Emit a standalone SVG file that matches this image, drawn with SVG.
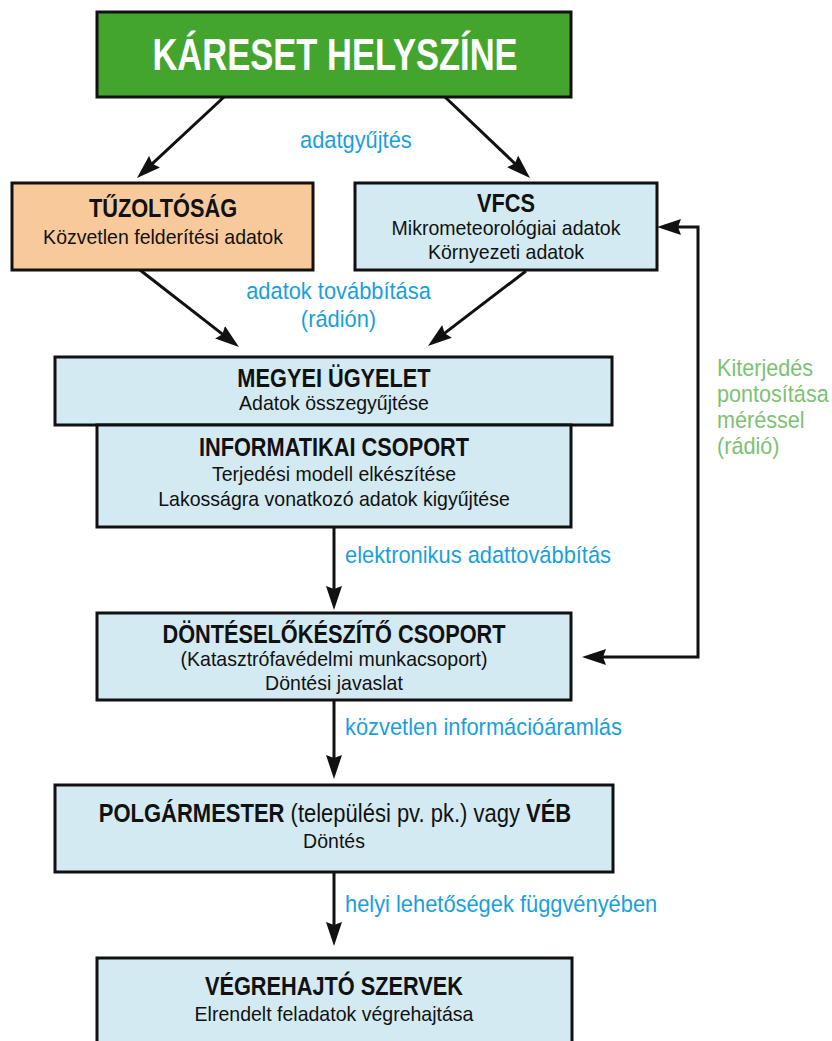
<svg xmlns="http://www.w3.org/2000/svg" width="832" height="1041" viewBox="0 0 832 1041">
<defs>
<style>
.box{stroke:#111;stroke-width:3}
.blue{fill:#d3eaf2}
.peach{fill:#f8c99a}
.green{fill:#44a52e}
.h{font-family:"Liberation Sans",Arial,sans-serif;font-weight:bold;font-size:25px;fill:#111;text-anchor:middle}
.b{font-family:"Liberation Sans",Arial,sans-serif;font-size:21px;fill:#111;text-anchor:middle}
.lb{font-family:"Liberation Sans",Arial,sans-serif;font-size:23.5px;fill:#1a9fdc}
.lg{font-family:"Liberation Sans",Arial,sans-serif;font-size:23.5px;fill:#7cc272}
.ttl{font-family:"Liberation Sans",Arial,sans-serif;font-weight:bold;font-size:44px;fill:#fff;text-anchor:middle}
.con{fill:none;stroke:#111;stroke-width:3}
</style>
<marker id="ah" viewBox="0 0 24 16" refX="14" refY="8" markerWidth="24" markerHeight="16" orient="auto-start-reverse" markerUnits="userSpaceOnUse">
<path d="M0,0 L24,8 L0,16 L3,8 z" fill="#111"/>
</marker>
</defs>
<rect width="832" height="1041" fill="#fff"/>

<g id="connectors">
<line class="con" x1="224" y1="97" x2="144.3" y2="171.2" marker-end="url(#ah)"/>
<line class="con" x1="445" y1="97" x2="522.8" y2="171.1" marker-end="url(#ah)"/>
<line class="con" x1="140" y1="270" x2="231.1" y2="340.9" marker-end="url(#ah)"/>
<line class="con" x1="526" y1="271" x2="435.9" y2="339.9" marker-end="url(#ah)"/>
<line class="con" x1="334" y1="527" x2="334" y2="600" marker-end="url(#ah)"/>
<line class="con" x1="334" y1="700" x2="334" y2="769" marker-end="url(#ah)"/>
<line class="con" x1="334" y1="872" x2="334" y2="936" marker-end="url(#ah)"/>
<path class="con" d="M592,657 H698 V227 H667" marker-start="url(#ah)" marker-end="url(#ah)"/>
<text class="lb" transform="translate(300,148) scale(0.93,1)">adatgyűjtés</text>
<text class="lb" text-anchor="middle" transform="translate(338.5,299) scale(0.93,1)">adatok továbbítása</text>
<text class="lb" text-anchor="middle" transform="translate(338.5,327) scale(0.93,1)">(rádión)</text>
<text class="lb" transform="translate(345,563) scale(0.93,1)">elektronikus adattovábbítás</text>
<text class="lb" transform="translate(345,735) scale(0.93,1)">közvetlen információáramlás</text>
<text class="lb" transform="translate(345,912) scale(0.93,1)">helyi lehetőségek függvényében</text>
<text class="lg" transform="translate(717,376) scale(0.92,1)"><tspan x="0" y="0">Kiterjedés</tspan><tspan x="0" y="26">pontosítása</tspan><tspan x="0" y="52">méréssel</tspan><tspan x="0" y="78">(rádió)</tspan></text>
</g>

<g id="kareset">
<rect class="box green" x="97" y="12" width="474" height="85"/>
<text class="ttl" transform="translate(335,70) scale(0.785,1)">KÁRESET HELYSZÍNE</text>
</g>

<g id="tuzoltosag">
<rect class="box peach" x="12" y="183" width="301" height="87"/>
<text class="h" transform="translate(163,217) scale(0.87,1)">TŰZOLTÓSÁG</text>
<text class="b" transform="translate(163,244) scale(0.93,1)">Közvetlen felderítési adatok</text>
</g>

<g id="vfcs">
<rect class="box blue" x="355" y="183" width="302" height="87"/>
<text class="h" transform="translate(506,212) scale(0.87,1)">VFCS</text>
<text class="b" transform="translate(506,235) scale(0.93,1)">Mikrometeorológiai adatok</text>
<text class="b" transform="translate(506,259) scale(0.93,1)">Környezeti adatok</text>
</g>

<g id="megyei">
<rect class="box blue" x="55" y="357" width="557" height="68"/>
<text class="h" transform="translate(334,387) scale(0.87,1)">MEGYEI ÜGYELET</text>
<text class="b" transform="translate(334,410) scale(0.93,1)">Adatok összegyűjtése</text>
</g>

<g id="informatikai">
<rect class="box blue" x="97" y="425" width="474" height="102"/>
<text class="h" transform="translate(334,456) scale(0.87,1)">INFORMATIKAI CSOPORT</text>
<text class="b" transform="translate(334,481) scale(0.93,1)">Terjedési modell elkészítése</text>
<text class="b" transform="translate(334,506) scale(0.93,1)">Lakosságra vonatkozó adatok kigyűjtése</text>
</g>

<g id="dontes">
<rect class="box blue" x="97" y="613" width="474" height="87"/>
<text class="h" transform="translate(334,643) scale(0.87,1)">DÖNTÉSELŐKÉSZÍTŐ CSOPORT</text>
<text class="b" transform="translate(334,666) scale(0.93,1)">(Katasztrófavédelmi munkacsoport)</text>
<text class="b" transform="translate(334,690) scale(0.93,1)">Döntési javaslat</text>
</g>

<g id="polgarmester">
<rect class="box blue" x="55" y="785" width="558" height="87"/>
<text class="b" transform="translate(335,822) scale(0.88,1)" style="font-size:25px"><tspan font-weight="bold">POLGÁRMESTER</tspan> (települési pv. pk.) vagy <tspan font-weight="bold">VÉB</tspan></text>
<text class="b" transform="translate(334,848) scale(0.93,1)">Döntés</text>
</g>

<g id="vegrehajto">
<rect class="box blue" x="97" y="958" width="475" height="100"/>
<text class="h" transform="translate(334,995) scale(0.87,1)">VÉGREHAJTÓ SZERVEK</text>
<text class="b" transform="translate(334,1021) scale(0.93,1)">Elrendelt feladatok végrehajtása</text>
</g>
</svg>
